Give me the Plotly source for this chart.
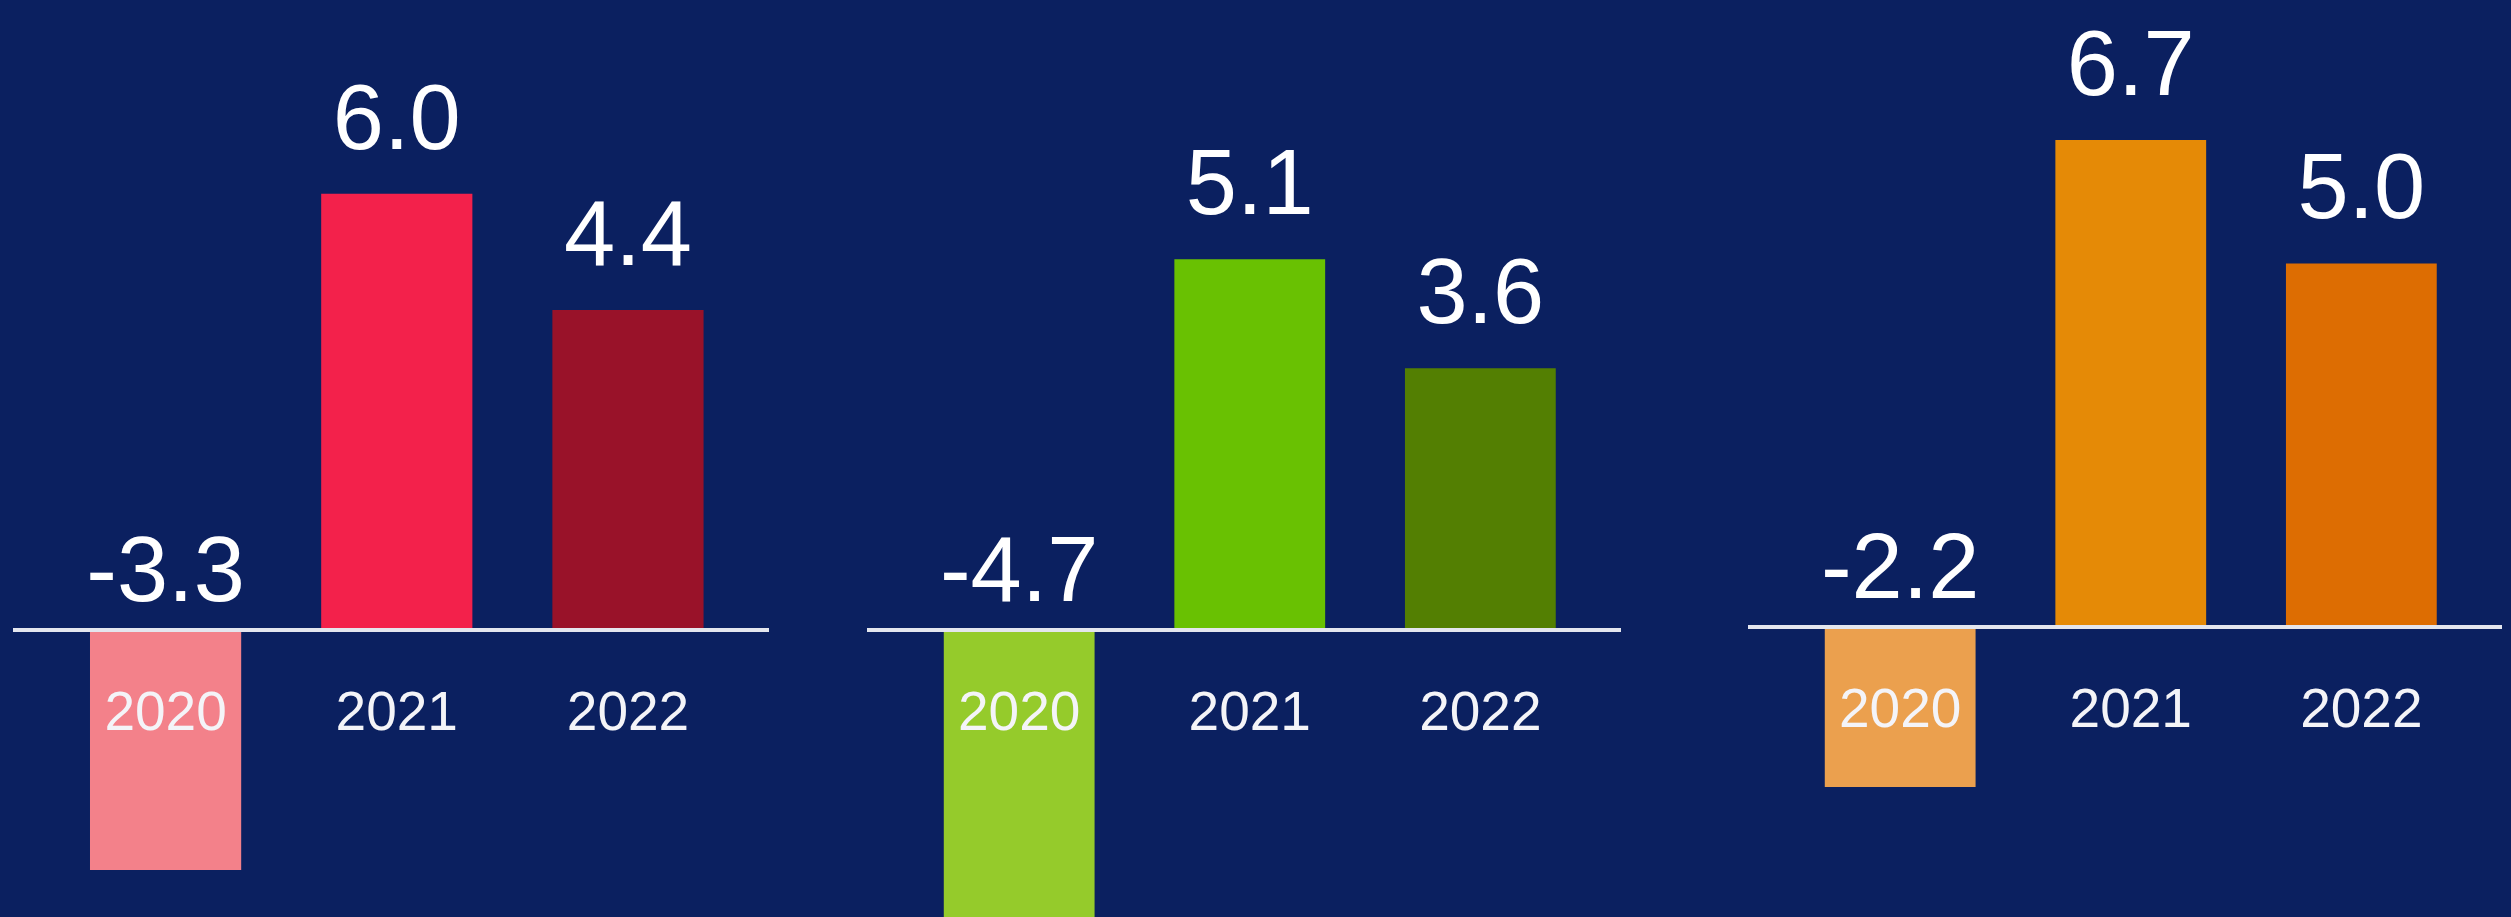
import plotly.graph_objects as go

# Annual growth rates (%) for three groups, 2020-2022
years = ["2020", "2021", "2022"]
group_a = [-3.3, 6.0, 4.4]
group_b = [-4.7, 5.1, 3.6]
group_c = [-2.2, 6.7, 5.0]

colors_a = ["#f3818a", "#f3214b", "#991229"]
colors_b = ["#95cb2b", "#69c102", "#537f02"]
colors_c = ["#eba04e", "#e58a06", "#dd6d02"]

W, H = 2511, 917
PX_PER_UNIT = 72.7
BG = "#0b2060"
FONT = "Liberation Sans, Arial, sans-serif"
VALUE_SIZE = 92
# invisible marker sizes that set the gap between a bar and its value label
PAD_POS, PAD_NEG = 34, 8

panels = [
    (group_a, colors_a, (13, 769), 630),
    (group_b, colors_b, (867, 1621), 630),
    (group_c, colors_c, (1748, 2502), 627),
]

fig = go.Figure()
layout = dict(
    width=W, height=H,
    margin=dict(l=0, r=0, t=0, b=0),
    paper_bgcolor=BG, plot_bgcolor="rgba(0,0,0,0)",
    showlegend=False, bargap=0.346,
    font=dict(family=FONT, color="white"),
)

for i, (vals, cols, (x0, x1), base_px) in enumerate(panels, start=1):
    sfx = "" if i == 1 else str(i)
    xa, ya = "x" + sfx, "y" + sfx
    fig.add_trace(go.Bar(
        x=years, y=vals, marker=dict(color=cols, line=dict(width=0)),
        xaxis=xa, yaxis=ya, hoverinfo="skip",
    ))
    # value labels: above the bar top, or above the baseline for negatives
    fig.add_trace(go.Scatter(
        x=years, y=[max(v, 0) for v in vals],
        mode="markers+text", text=[f"{v:.1f}" for v in vals],
        textposition="top center",
        textfont=dict(size=VALUE_SIZE, color="white", family=FONT),
        marker=dict(size=[PAD_POS if v > 0 else PAD_NEG for v in vals],
                    color="rgba(0,0,0,0)", line=dict(width=0)),
        xaxis=xa, yaxis=ya, hoverinfo="skip", cliponaxis=False,
    ))
    ytop = base_px / PX_PER_UNIT
    ybot = -(H - base_px) / PX_PER_UNIT
    layout["xaxis" + sfx] = dict(
        domain=[x0 / W, x1 / W], type="category", range=[-0.66, 2.61],
        anchor="free", position=1 - base_px / H,
        showline=True, linecolor="#e4e6ee", linewidth=4,
        ticks="", showgrid=False, zeroline=False,
        tickfont=dict(size=55, color="#f4f4f8", family=FONT),
        ticklabelstandoff=32,
        fixedrange=True,
    )
    layout["yaxis" + sfx] = dict(
        domain=[0, 1], range=[ybot, ytop], visible=False,
        showgrid=False, zeroline=False, anchor=xa, fixedrange=True,
    )

fig.update_layout(**layout)
fig.write_html("out.html")
